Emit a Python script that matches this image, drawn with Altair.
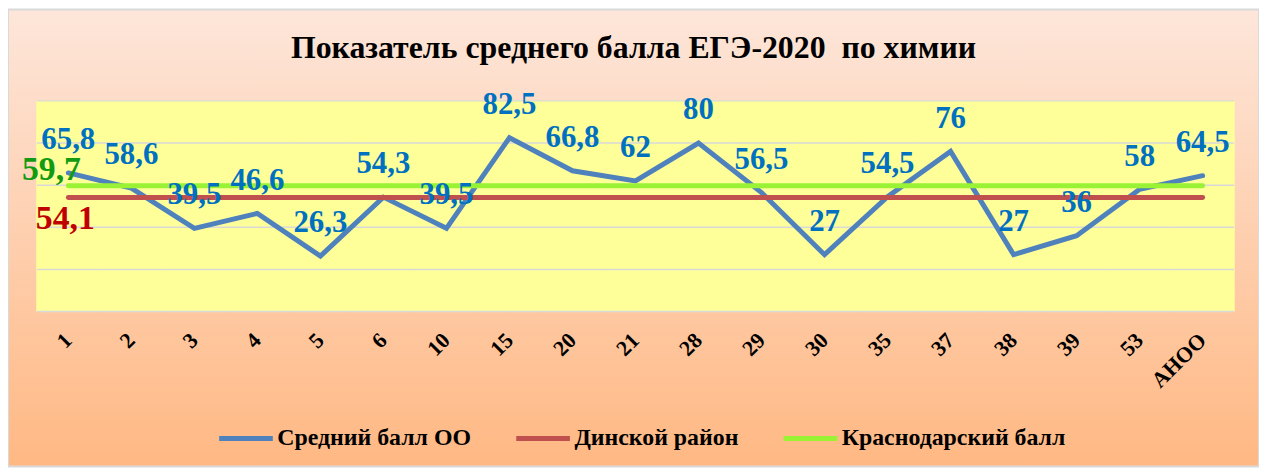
import altair as alt
import pandas as pd

# ---- data ----
categories = ["1", "2", "3", "4", "5", "6", "10", "15", "20", "21", "28",
              "29", "30", "35", "37", "38", "39", "53", "АНОО"]
school_avg = [65.8, 58.6, 39.5, 46.6, 26.3, 54.3, 39.5, 82.5, 66.8, 62,
              80, 56.5, 27, 54.5, 76, 27, 36, 58, 64.5]
district_avg = 54.1
krai_avg = 59.7
series_names = ["Средний балл ОО", "Динской район", "Краснодарский балл"]
series_colors = ["#4F81BD", "#C0504D", "#99F233"]
grid_values = [0, 20, 40, 60, 80, 100]
title_text = "Показатель среднего балла ЕГЭ-2020\u00a0 по химии"


def fmt(v):
    return f"{v:g}".replace(".", ",")


rows = []
for i, c in enumerate(categories):
    rows.append(dict(cat=c, idx=i, value=school_avg[i], series=series_names[0], label=fmt(school_avg[i])))
for i, c in enumerate(categories):
    rows.append(dict(cat=c, idx=i, value=district_avg, series=series_names[1], label=fmt(district_avg)))
for i, c in enumerate(categories):
    rows.append(dict(cat=c, idx=i, value=krai_avg, series=series_names[2], label=fmt(krai_avg)))
df = pd.DataFrame(rows)
grid_df = pd.DataFrame([dict(cat=c, g=g) for c in categories for g in grid_values])

W, H = 1259, 460
FONT = "Liberation Serif"

x_scale = alt.Scale(type="band", domain=categories, range=[29, 1234], paddingInner=0, paddingOuter=0)
y_scale = alt.Scale(domain=[0, 100], range=[304, 92], nice=False, zero=False)

x_axis = alt.Axis(title=None, orient="bottom", offset=-(H - 304), labelAngle=-45,
                  labelAlign="right", labelBaseline="middle", labelPadding=25,
                  labelFont=FONT, labelFontSize=22, labelFontWeight="bold",
                  labelColor="black", domain=False, ticks=False, grid=False,
                  labelOverlap=False)

blue_only = alt.datum.series == series_names[0]

plot_bg = alt.Chart(df).transform_filter(blue_only).mark_rect(
    fill="#FFFF99", stroke="#FFFF99", strokeWidth=1
).encode(
    x=alt.X("cat:N", scale=x_scale, axis=x_axis, sort=categories),
    y=alt.YDatum(0, type="quantitative", scale=y_scale, axis=None),
    y2=alt.Y2Datum(100),
)

grid = alt.Chart(grid_df).mark_rect(
    fillOpacity=0, stroke="#D9D9D9", strokeWidth=1.5
).encode(
    x=alt.X("cat:N", sort=categories),
    y=alt.Y("g:Q"),
    y2="g:Q",
)

lines = alt.Chart(df).mark_line(strokeWidth=5, strokeCap="round").encode(
    x=alt.X("cat:N", bandPosition=0.5, sort=categories),
    y=alt.Y("value:Q"),
    color=alt.Color(
        "series:N",
        scale=alt.Scale(domain=series_names, range=series_colors),
        legend=alt.Legend(
            title=None, orient="none", legendX=210, legendY=402,
            direction="horizontal", symbolType="stroke", symbolSize=2916,
            symbolStrokeWidth=5, labelFont=FONT, labelFontSize=24,
            labelFontWeight="bold", labelColor="black", columnPadding=34,
            labelOffset=2, labelLimit=400,
        ),
    ),
    order=alt.Order("idx:Q"),
)

blue_labels = alt.Chart(df).transform_filter(blue_only).mark_text(
    font=FONT, fontSize=31, fontWeight="bold", color="#0070C0",
    baseline="alphabetic", dy=-24,
).encode(
    x=alt.X("cat:N", bandPosition=0.5, sort=categories),
    y=alt.Y("value:Q"),
    text="label:N",
)

krai_label = alt.Chart(df).transform_filter(
    (alt.datum.series == series_names[2]) & (alt.datum.idx == 0)
).mark_text(
    font=FONT, fontSize=34, fontWeight="bold", color="#129A12",
    baseline="alphabetic", dx=-17, dy=-6,
).encode(
    x=alt.X("cat:N", bandPosition=0.5, sort=categories),
    y=alt.Y("value:Q"),
    text="label:N",
)

district_label = alt.Chart(df).transform_filter(
    (alt.datum.series == series_names[1]) & (alt.datum.idx == 0)
).mark_text(
    font=FONT, fontSize=34, fontWeight="bold", color="#C00000",
    baseline="alphabetic", dx=-3, dy=32,
).encode(
    x=alt.X("cat:N", bandPosition=0.5, sort=categories),
    y=alt.Y("value:Q"),
    text="label:N",
)

gradient_expr = ("{gradient: 'linear', x1: 0, y1: 0, x2: 0, y2: 1, "
                 "stops: [{offset: 0, color: '#FDE6DA'}, {offset: 1, color: '#FFB883'}]}")

chart = alt.layer(
    plot_bg, grid, lines, blue_labels, krai_label, district_label
).properties(
    width=W, height=H, padding=0,
    autosize=alt.AutoSizeParams(type="none"),
    title=alt.TitleParams(
        text=title_text, font=FONT, fontSize=32, fontWeight="bold",
        color="black", anchor="middle", frame="group", offset=0,
        baseline="alphabetic", dy=81,
    ),
).configure_view(
    fill={"expr": gradient_expr}, stroke="#D9D9D9", strokeWidth=2,
)

chart.save("out.html", embed_options={"renderer": "svg", "actions": False})
